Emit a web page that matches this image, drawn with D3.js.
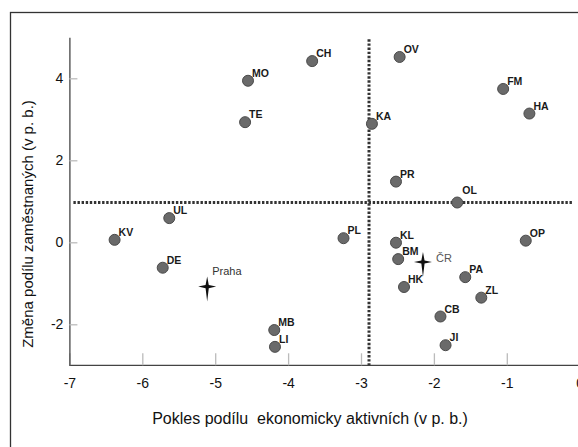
<!DOCTYPE html>
<html>
<head>
<meta charset="utf-8">
<script src="https://cdn.jsdelivr.net/npm/d3@7"></script>
<style>
  body { margin: 0; background: #fff; }
  svg { display: block; font-family: "Liberation Sans", Arial, sans-serif; }
</style>
</head>
<body>
<svg width="578" height="447"></svg>
<script>
// regions (kraje / okresy) with their change values
var regions = ["MO","TE","UL","CH","OV","FM","HA","KA","PR","OL","KV","DE","MB","LI","PL","KL","BM","HK","PA","ZL","CB","JI","OP"];
var activeDecline = [-4.55,-4.59,-5.63,-3.67,-2.47,-1.05,-0.69,-2.85,-2.52,-1.68,-6.38,-5.72,-4.19,-4.18,-3.24,-2.52,-2.49,-2.41,-1.57,-1.35,-1.91,-1.84,-0.74];
var employedChange = [3.94,2.93,0.59,4.42,4.52,3.74,3.14,2.89,1.48,0.97,0.06,-0.62,-2.14,-2.55,0.10,-0.01,-0.41,-1.09,-0.85,-1.35,-1.81,-2.51,0.04];

var benchNames = ["Praha","ČR"];
var benchX = [-5.11,-2.15];
var benchY = [-1.08,-0.48];

var meanX = -2.89;
var meanY = 0.97;

var xTicks = [-7,-6,-5,-4,-3,-2,-1,0];
var yTicks = [-2,0,2,4];

var svg = d3.select('svg');
var svgWidth = +svg.attr('width');
var svgHeight = +svg.attr('height');

var xScale = d3.scaleLinear().domain([-7, 0]).range([69.4, 579.7]);
var yScale = d3.scaleLinear().domain([-3, 5]).range([365.3, 37.3]);
var plainNum = d => String(d);

// outer frame (runs past the right and bottom edge)
svg.append('rect')
  .attr('x', 10.5).attr('y', 12.5)
  .attr('width', svgWidth + 20).attr('height', svgHeight + 20)
  .attr('fill', 'none')
  .attr('stroke', '#333')
  .attr('stroke-width', 1.3);

var chart = svg.append('g');

// x axis: ticks point up into the plot
var xAxis = chart.append('g')
  .attr('transform', 'translate(0,' + yScale(-3) + ')')
  .call(d3.axisBottom(xScale).tickValues(xTicks).tickFormat(plainNum).tickSizeInner(-12).tickSizeOuter(0).tickPadding(13));
xAxis.select('.domain').attr('stroke', '#444').attr('stroke-width', 1.3).attr('d', 'M' + xScale(-7) + ',0H' + svgWidth);
xAxis.selectAll('.tick line').attr('stroke', '#bbb').attr('stroke-width', 1.3);
xAxis.selectAll('.tick text').attr('font-size', 14).attr('fill', '#111').attr('font-family', '"Liberation Sans", Arial, sans-serif');

// y axis: ticks point right into the plot
var yAxis = chart.append('g')
  .attr('transform', 'translate(' + xScale(-7) + ',0)')
  .call(d3.axisLeft(yScale).tickValues(yTicks).tickFormat(plainNum).tickSizeInner(-8).tickSizeOuter(0).tickPadding(6));
yAxis.select('.domain').attr('stroke', '#444').attr('stroke-width', 1.3);
yAxis.selectAll('.tick line').attr('stroke', '#bbb').attr('stroke-width', 1.3);
yAxis.selectAll('.tick text').attr('font-size', 14).attr('fill', '#111').attr('font-family', '"Liberation Sans", Arial, sans-serif');

// mean lines
chart.append('line')
  .attr('x1', xScale(meanX)).attr('x2', xScale(meanX))
  .attr('y1', yScale(4.95)).attr('y2', yScale(-3))
  .attr('stroke', '#333').attr('stroke-width', 3)
  .attr('stroke-dasharray', '2.4,1.7');
chart.append('line')
  .attr('x1', xScale(-7) + 4).attr('x2', 573)
  .attr('y1', yScale(meanY)).attr('y2', yScale(meanY))
  .attr('stroke', '#333').attr('stroke-width', 3)
  .attr('stroke-dasharray', '2.4,1.7');

var points = regions.map(function(r, i) {
  return {name: r, x: activeDecline[i], y: employedChange[i]};
});

chart.selectAll('.dot')
  .data(points)
  .enter()
  .append('circle')
  .attr('class', 'dot')
  .attr('cx', d => xScale(d.x))
  .attr('cy', d => yScale(d.y))
  .attr('r', 5.5)
  .attr('fill', '#6a6a6a')
  .attr('stroke', '#4a4a4a')
  .attr('stroke-width', 1);

chart.selectAll('.dot-label')
  .data(points)
  .enter()
  .append('text')
  .attr('class', 'dot-label')
  .attr('x', d => xScale(d.x) + (d.name === 'OL' ? 5 : 4))
  .attr('y', d => yScale(d.y) - (d.name === 'OL' ? 9 : 4))
  .attr('font-size', 10.5)
  .attr('font-weight', 'bold')
  .attr('fill', '#1a1a1a')
  .text(d => d.name);

// benchmark stars (Praha, ČR)
var bench = benchNames.map(function(n, i) { return {name: n, x: benchX[i], y: benchY[i]}; });
var starPath = 'M0,-10 L1.6,-1.6 L9,0 L1.6,1.6 L0,15 L-1.6,1.6 L-9,0 L-1.6,-1.6 Z';

chart.selectAll('.star')
  .data(bench)
  .enter()
  .append('path')
  .attr('class', 'star')
  .attr('d', starPath)
  .attr('transform', d => 'translate(' + xScale(d.x) + ',' + yScale(d.y) + ')')
  .attr('fill', '#111');

chart.selectAll('.star-label')
  .data(bench)
  .enter()
  .append('text')
  .attr('class', 'star-label')
  .attr('x', (d, i) => xScale(d.x) + (i === 0 ? 5 : 13))
  .attr('y', (d, i) => yScale(d.y) + (i === 0 ? -12 : 0))
  .attr('font-size', 11)
  .attr('fill', (d, i) => i === 0 ? '#333' : '#555')
  .text(d => d.name);

// axis titles
svg.append('text')
  .attr('transform', 'translate(' + [310, 424] + ')')
  .attr('text-anchor', 'middle')
  .attr('font-size', 16)
  .attr('fill', '#111')
  .attr('xml:space', 'preserve')
  .style('white-space', 'pre')
  .text('Pokles podílu  ekonomicky aktivních (v p. b.)');

svg.append('text')
  .attr('transform', 'translate(' + [33, 224] + ')rotate(-90)')
  .attr('text-anchor', 'middle')
  .attr('font-size', 15)
  .attr('fill', '#111')
  .text('Změna podílu zaměstnaných (v p. b.)');
</script>
</body>
</html>
